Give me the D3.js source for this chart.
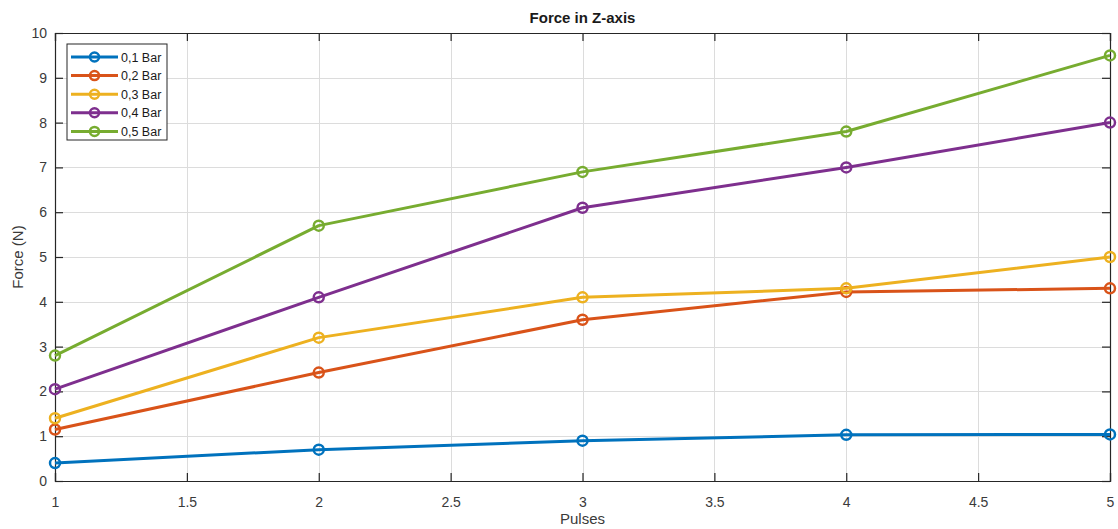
<!DOCTYPE html>
<html>
<head>
<meta charset="utf-8">
<script src="https://cdn.jsdelivr.net/npm/d3@7"></script>
<style>
  html, body { margin: 0; padding: 0; background: #fff; }
  svg { display: block; font-family: "Liberation Sans", Arial, sans-serif; }
</style>
</head>
<body>
<svg id="chart" width="1118" height="529"></svg>
<script>
// Pulses on the x axis
const pulses = [1, 2, 3, 4, 5];
// Series names and measured force (N) per pulse
const seriesNames = ["0,1 Bar", "0,2 Bar", "0,3 Bar", "0,4 Bar", "0,5 Bar"];
const force01 = [0.40, 0.70, 0.90, 1.03, 1.04];
const force02 = [1.15, 2.42, 3.60, 4.22, 4.30];
const force03 = [1.40, 3.20, 4.10, 4.30, 5.00];
const force04 = [2.05, 4.10, 6.10, 7.00, 8.00];
const force05 = [2.80, 5.70, 6.90, 7.80, 9.50];
const xTicks = [1, 1.5, 2, 2.5, 3, 3.5, 4, 4.5, 5];
const yTicks = [0, 1, 2, 3, 4, 5, 6, 7, 8, 9, 10];
const colors = ["#0072BD", "#D95319", "#EDB120", "#7E2F8E", "#77AC30"];

const seriesValues = [force01, force02, force03, force04, force05];
const series = seriesNames.map((name, i) => ({
  name, color: colors[i],
  points: pulses.map((p, j) => ({ x: p, y: seriesValues[i][j] }))
}));

const svg = d3.select("#chart");
const plotLeft = 55, plotRight = 1110, plotTop = 33, plotBottom = 481;

const x = d3.scaleLinear().domain([1, 5]).range([plotLeft, plotRight]);
const y = d3.scaleLinear().domain([0, 10]).range([plotBottom, plotTop]);

// Grid
const grid = svg.append("g").attr("stroke", "#dcdcdc").attr("stroke-width", 1);
grid.selectAll("line.vx").data(xTicks).join("line")
  .attr("x1", d => Math.round(x(d)) + 0.5).attr("x2", d => Math.round(x(d)) + 0.5)
  .attr("y1", plotTop).attr("y2", plotBottom);
grid.selectAll("line.hy").data(yTicks).join("line")
  .attr("y1", d => Math.round(y(d)) + 0.5).attr("y2", d => Math.round(y(d)) + 0.5)
  .attr("x1", plotLeft).attr("x2", plotRight);

// Axes with inward ticks
const axisColor = "#262626";
const xAxis = svg.append("g").attr("transform", `translate(0,${plotBottom})`)
  .call(d3.axisBottom(x).tickValues(xTicks).tickSize(-8).tickPadding(16).tickFormat(d3.format("")));
const yAxis = svg.append("g").attr("transform", `translate(${plotLeft},0)`)
  .call(d3.axisLeft(y).tickValues(yTicks).tickSize(-8).tickPadding(8).tickFormat(d3.format("d")));
const xTop = svg.append("g").attr("transform", `translate(0,${plotTop})`)
  .call(d3.axisTop(x).tickValues(xTicks).tickSize(-8).tickFormat(""));
const yRight = svg.append("g").attr("transform", `translate(${plotRight},0)`)
  .call(d3.axisRight(y).tickValues(yTicks).tickSize(-8).tickFormat(""));
[xAxis, yAxis, xTop, yRight].forEach(g => {
  g.select(".domain").attr("stroke", axisColor).attr("stroke-width", 1.2);
  g.selectAll(".tick line").attr("stroke", axisColor).attr("stroke-width", 1.2);
  g.selectAll(".tick text").attr("fill", "#3a3a3a").attr("font-size", 14)
    .attr("font-family", "Liberation Sans, Arial, sans-serif");
});

// Lines and markers
const line = d3.line().x(d => x(d.x)).y(d => y(d.y));
const sg = svg.append("g");
series.forEach(s => {
  sg.append("path").datum(s.points)
    .attr("fill", "none").attr("stroke", s.color).attr("stroke-width", 3)
    .attr("stroke-linejoin", "round").attr("d", line);
  sg.selectAll(null).data(s.points).join("circle")
    .attr("cx", d => x(d.x)).attr("cy", d => y(d.y)).attr("r", 5)
    .attr("fill", "none").attr("stroke", s.color).attr("stroke-width", 2.5);
});

// Title and axis labels
svg.append("text").attr("x", (plotLeft + plotRight) / 2).attr("y", 23)
  .attr("text-anchor", "middle").attr("font-size", 15).attr("font-weight", "bold")
  .attr("fill", "#1a1a1a").text("Force in Z-axis");
svg.append("text").attr("x", (plotLeft + plotRight) / 2).attr("y", 524)
  .attr("text-anchor", "middle").attr("font-size", 15).attr("fill", "#3a3a3a").text("Pulses");
svg.append("text").attr("transform", `translate(23,${(plotTop + plotBottom) / 2}) rotate(-90)`)
  .attr("text-anchor", "middle").attr("font-size", 15).attr("fill", "#3a3a3a").text("Force (N)");

// Legend
const lg = svg.append("g").attr("transform", "translate(67,44)");
lg.append("rect").attr("width", 100).attr("height", 96)
  .attr("fill", "#fff").attr("stroke", axisColor).attr("stroke-width", 1);
series.forEach((s, i) => {
  const yy = 13 + i * 18.6;
  lg.append("line").attr("x1", 4).attr("x2", 51).attr("y1", yy).attr("y2", yy)
    .attr("stroke", s.color).attr("stroke-width", 3);
  lg.append("circle").attr("cx", 27.5).attr("cy", yy).attr("r", 4.5)
    .attr("fill", "none").attr("stroke", s.color).attr("stroke-width", 2.5);
  lg.append("text").attr("x", 54).attr("y", yy + 4.5).attr("font-size", 12.5)
    .attr("fill", "#1a1a1a").text(s.name);
});
</script>
</body>
</html>
